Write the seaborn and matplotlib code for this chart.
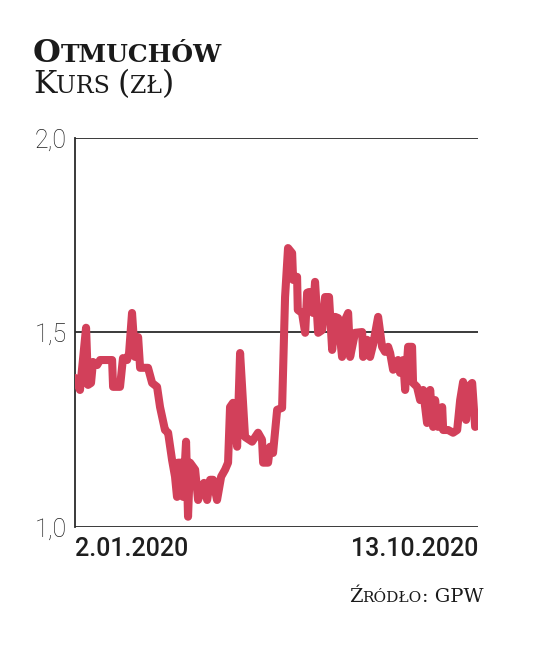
import pandas as pd
import matplotlib
matplotlib.use("Agg")
import matplotlib.pyplot as plt
import matplotlib.transforms as mtrans
import seaborn as sns

# Otmuchów share price (day offset from 2.01.2020, zł)
dni = [0, 3.5, 7.8, 9.2, 11.3, 12.7, 15.6, 17.7, 26.2, 26.9, 31.8, 33.9, 36.8, 38.2,
       40.3, 42.4, 44.6, 46.0, 51.6, 54.5, 58.0, 60.1, 63.6, 65.8, 68.6, 70.7, 72.1,
       72.8, 75.7, 76.4, 78.5, 79.9, 81.3, 84.9, 87.0, 89.8, 91.2, 93.4, 95.5, 97.6,
       100.4, 103.3, 106.1, 108.2, 109.6, 111.7, 114.6, 116.7, 120.2, 125.2, 129.4,
       132.2, 133.0, 136.5, 137.9, 140.0, 142.9, 146.4, 148.5, 150.6, 153.5, 154.2,
       157.0, 157.5, 160.5, 162.7, 164.1, 165.5, 168.3, 169.7, 171.9, 174.7, 176.8,
       179.6, 181.8, 183.9, 186.0, 188.8, 190.9, 193.1, 194.5, 198.0, 203.0, 203.7,
       206.5, 208.6, 210.7, 214.3, 217.1, 219.2, 221.4, 222.8, 224.9, 228.4, 229.8,
       232.0, 233.4, 235.5, 238.3, 239.0, 241.8, 244.0, 246.1, 248.9, 251.1, 253.2,
       254.6, 256.7, 259.6, 260.3, 263.8, 267.3, 270.2, 272.3, 274.4, 276.5, 277.9,
       280.8, 282.9, 285]
kurs = [1.383, 1.352, 1.512, 1.365, 1.370, 1.424, 1.416, 1.429, 1.429, 1.360, 1.360,
        1.434, 1.429, 1.447, 1.550, 1.437, 1.488, 1.409, 1.409, 1.370, 1.360, 1.308,
        1.249, 1.242, 1.172, 1.129, 1.077, 1.165, 1.165, 1.077, 1.219, 1.026, 1.165,
        1.147, 1.069, 1.103, 1.113, 1.069, 1.121, 1.121, 1.069, 1.129, 1.147, 1.165,
        1.308, 1.319, 1.206, 1.447, 1.231, 1.219, 1.242, 1.224, 1.165, 1.165, 1.206,
        1.190, 1.301, 1.306, 1.591, 1.717, 1.704, 1.635, 1.643, 1.558, 1.550, 1.499,
        1.602, 1.604, 1.550, 1.630, 1.499, 1.506, 1.591, 1.591, 1.455, 1.540, 1.537,
        1.437, 1.532, 1.550, 1.437, 1.499, 1.501, 1.437, 1.481, 1.437, 1.468, 1.540,
        1.463, 1.450, 1.463, 1.447, 1.404, 1.429, 1.396, 1.429, 1.352, 1.463, 1.463,
        1.370, 1.360, 1.326, 1.352, 1.267, 1.352, 1.257, 1.326, 1.257, 1.308, 1.249,
        1.249, 1.242, 1.249, 1.326, 1.373, 1.275, 1.360, 1.370, 1.257, 1.262]

start, end = "2020-01-02", "2020-10-13"
y_ticks = [1.0, 1.5, 2.0]
y_labels = ["1,0", "1,5", "2,0"]
x_labels = ["2.01.2020", "13.10.2020"]

df = pd.DataFrame({"data": pd.Timestamp(start) + pd.to_timedelta(dni, unit="D"), "kurs": kurs})

sns.set_style("white")
fig = plt.figure(figsize=(5.36, 6.48), dpi=100)
ax = fig.add_axes([0.140, 0.187, 0.752, 0.600])

dark = "#2b2b2b"
red = "#d2405a"

for yv in y_ticks:
    ax.axhline(yv, color=dark, lw=1.3, zorder=1)

sns.lineplot(data=df, x="data", y="kurs", ax=ax, color=red, lw=5.8,
             estimator=None, sort=False, zorder=3,
             solid_joinstyle="round", solid_capstyle="round")

ax.set_xlim(pd.Timestamp(start), pd.Timestamp(end))
ax.set_ylim(1.0, 2.0)
for s in ["top", "right", "bottom"]:
    ax.spines[s].set_visible(False)
ax.spines["left"].set_color(dark)
ax.spines["left"].set_linewidth(1.3)
ax.set_xlabel("")
ax.set_ylabel("")

ax.set_yticks(y_ticks)
ax.set_yticklabels(y_labels, family=["Roboto", "DejaVu Sans"], fontweight="light",
                   fontsize=18, color="#1e1e1e")
ax.tick_params(axis="y", length=0, pad=6)

ax.set_xticks([pd.Timestamp(start), pd.Timestamp(end)])
ax.set_xticklabels(x_labels, family=["Roboto", "DejaVu Sans"],
                   fontsize=18, fontweight="medium", color="#1e1e1e")
ax.tick_params(axis="x", length=0, pad=7)
xt = ax.get_xticklabels()
xt[0].set_ha("left")
xt[1].set_ha("right")

# small caps texts drawn piece by piece (pixel coordinates)
renderer = fig.canvas.get_renderer()
ident = mtrans.IdentityTransform()


def small_caps(x, y, pieces, align="left", **kw):
    texts = []
    cx = x
    for txt, size in pieces:
        t = fig.text(cx, y, txt, fontsize=size, transform=ident, va="baseline", **kw)
        w = t.get_window_extent(renderer).width
        texts.append((t, w))
        cx += w
    if align == "right":
        shift = cx - x
        for t, w in texts:
            px, py = t.get_position()
            t.set_position((px - shift, py))


serif = dict(family="DejaVu Serif", color="#1a1a1a")
H = 648
small_caps(33, H - 62, [("O", 23), ("TMUCHÓW", 18)], fontweight="bold", **serif)
small_caps(33, H - 93, [("K", 22.5), ("URS ", 17), ("(", 22.5), ("ZŁ", 17), (")", 22.5)], **serif)
small_caps(483, H - 602, [("Ź", 14), ("RÓDŁO", 11), (": GPW", 14)], align="right", **serif)

fig.savefig("out.png", dpi=100)
